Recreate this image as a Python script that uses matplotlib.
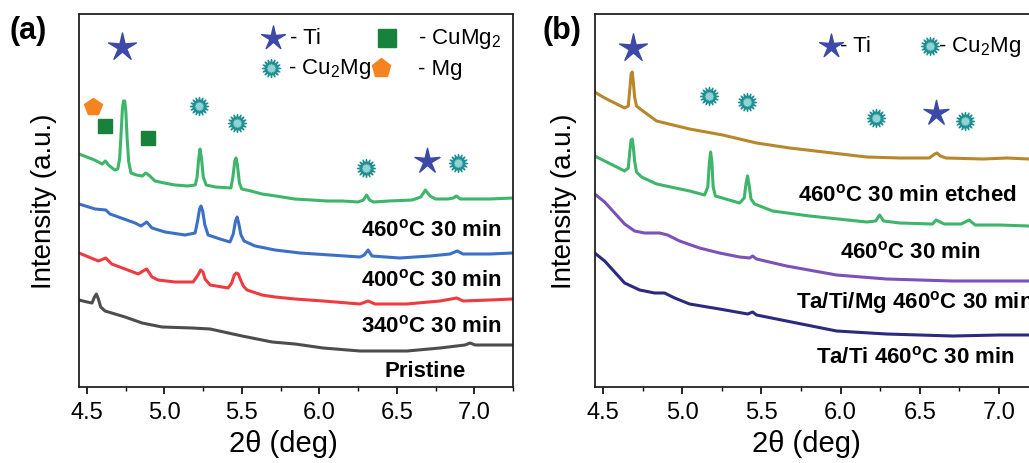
import matplotlib
matplotlib.use("Agg")
import matplotlib.pyplot as plt
from matplotlib.path import Path
from matplotlib.ticker import MultipleLocator

plt.rcParams['font.family'] = ['Liberation Sans', 'DejaVu Sans']
plt.rcParams['mathtext.fontset'] = 'custom'
plt.rcParams['mathtext.rm'] = 'Liberation Sans'
plt.rcParams['mathtext.bf'] = 'Liberation Sans:bold'
plt.rcParams['mathtext.it'] = 'Liberation Sans:italic'

# ---------------- panel (a) data : 2theta (deg), intensity (a.u.) ----------------
a_460_x = [4.45, 4.50, 4.55, 4.60, 4.62, 4.64, 4.68, 4.70, 4.712, 4.722, 4.730, 4.737, 4.745,
           4.752, 4.760, 4.770, 4.785, 4.82, 4.86, 4.88, 4.90, 4.94, 5.00, 5.07, 5.15, 5.20,
           5.212, 5.222, 5.231, 5.240, 5.252, 5.27, 5.33, 5.43, 5.443, 5.455, 5.463, 5.472,
           5.485, 5.50, 5.56, 5.63, 5.72, 5.84, 5.95, 6.05, 6.15, 6.25, 6.285, 6.305, 6.325,
           6.35, 6.45, 6.60, 6.655, 6.685, 6.715, 6.75, 6.83, 6.865, 6.885, 6.91, 7.0, 7.1, 7.25]
a_460_y = [233, 230, 227, 223, 226, 222, 217, 218, 228, 255, 278, 286, 286,
           276, 250, 226, 214, 212, 211, 214, 212, 206, 204, 202, 201, 202,
           210, 228, 238, 229, 210, 202, 200, 199, 210, 226, 229, 222,
           204, 198, 196, 193, 191, 188, 187, 186, 186, 185, 187, 192, 187,
           185, 186, 187, 190, 197, 191, 188, 188, 189, 191, 188, 188, 188, 189]

a_400_x = [4.45, 4.554, 4.623, 4.65, 4.812, 4.85, 4.887, 4.921, 5.005, 5.134, 5.199, 5.215, 5.228,
           5.237, 5.248, 5.262, 5.283, 5.36, 5.424, 5.445, 5.46, 5.47, 5.48, 5.495, 5.515, 5.586,
           5.715, 5.876, 6.07, 6.263, 6.29, 6.315, 6.34, 6.52, 6.715, 6.844, 6.89, 6.928, 7.1, 7.25]
a_400_y = [183, 178, 177, 173, 164, 161, 165, 159, 155, 152, 154, 166, 178,
           181, 176, 162, 152, 148, 145, 153, 166, 170, 164, 152, 146, 141,
           137, 134, 132, 130, 132, 137, 131, 129, 131, 133, 136, 133, 133, 134]

a_340_x = [4.45, 4.575, 4.623, 4.661, 4.747, 4.833, 4.863, 4.887, 4.921, 4.96, 5.07, 5.186, 5.218,
           5.235, 5.25, 5.263, 5.296, 5.412, 5.435, 5.452, 5.465, 5.478, 5.49, 5.51, 5.534, 5.631,
           5.715, 5.844, 6.025, 6.263, 6.315, 6.36, 6.563, 6.779, 6.887, 6.928, 7.1, 7.25]
a_340_y = [134, 126, 129, 123, 118, 113, 116, 118, 110, 107, 105, 105, 112,
           117, 115, 108, 102, 99, 104, 112, 114, 113, 108, 101, 97, 92,
           90, 88, 86, 83, 86, 83, 83, 86, 89, 86, 87, 88]

a_pri_x = [4.45, 4.502, 4.534, 4.55, 4.562, 4.575, 4.59, 4.618, 4.747, 4.857, 4.986, 5.18, 5.296,
           5.502, 5.696, 5.844, 6.025, 6.263, 6.566, 6.779, 6.94, 6.973, 7.005, 7.25]
a_pri_y = [87, 85, 84, 90, 93, 88, 80, 76, 70, 64, 60, 59, 58,
           51, 45, 43, 39, 36, 36, 39, 42, 44, 42, 42]

# phase markers, panel (a)
a_ti_x, a_ti_y = [4.728, 6.694], [340, 226]
a_cu2mg_x, a_cu2mg_y = [5.227, 5.472, 6.302, 6.894], [281, 264, 219, 224]
a_cumg2_x, a_cumg2_y = [4.618, 4.894], [261, 249]
a_mg_x, a_mg_y = [4.539], [280]

# ---------------- panel (b) data ----------------
b_etch_x = [4.448, 4.511, 4.574, 4.637, 4.66, 4.67, 4.678, 4.685, 4.692, 4.70, 4.712, 4.744,
            4.839, 5.047, 5.256, 5.47, 5.679, 5.95, 6.165, 6.376, 6.56, 6.595, 6.61, 6.63,
            6.666, 6.9, 7.05, 7.188, 7.26]
b_etch_y = [295, 289, 284, 279, 281, 298, 313, 315, 305, 290, 281, 277,
            266, 258, 252, 244, 239, 234, 230, 229, 229, 233, 234, 231,
            229, 228, 229, 228, 228]

b_460_x = [4.448, 4.511, 4.574, 4.637, 4.66, 4.67, 4.678, 4.685, 4.692, 4.70, 4.712, 4.744,
           4.839, 5.047, 5.142, 5.162, 5.172, 5.180, 5.188, 5.196, 5.21, 5.363, 5.392, 5.404,
           5.413, 5.422, 5.435, 5.458, 5.571, 5.805, 6.165, 6.222, 6.247, 6.272, 6.373, 6.581,
           6.604, 6.655, 6.762, 6.812, 6.85, 7.004, 7.188, 7.26]
b_460_y = [231, 226, 221, 216, 219, 236, 247, 248, 240, 226, 215, 210,
           203, 196, 192, 200, 224, 235, 225, 200, 191, 184, 189, 204,
           211, 203, 188, 183, 176, 171, 165, 166, 172, 166, 164, 163,
           167, 163, 163, 167, 162, 162, 161, 161]

b_mg_x = [4.448, 4.511, 4.574, 4.637, 4.70, 4.763, 4.858, 4.908, 4.984, 5.11, 5.236, 5.363,
          5.426, 5.445, 5.47, 5.659, 5.975, 6.29, 6.707, 7.004, 7.26]
b_mg_y = [193, 185, 174, 163, 156, 154, 154, 152, 146, 139, 134, 130,
          129, 131, 128, 121, 112, 108, 106, 106, 106]

b_ti_x = [4.448, 4.511, 4.574, 4.637, 4.732, 4.826, 4.889, 4.953, 5.047, 5.236, 5.414, 5.445,
          5.47, 5.659, 5.975, 6.29, 6.707, 7.004, 7.26]
b_ti_y = [134, 126, 115, 104, 97, 94, 94, 89, 83, 78, 73, 75,
          72, 66, 56, 53, 51, 52, 52]

# phase markers, panel (b)
b_ti_mark_x, b_ti_mark_y = [4.689, 6.605], [339, 274]
b_cu2mg_x, b_cu2mg_y = [5.169, 5.412, 6.222, 6.783], [291, 285, 269, 266]

# ---------------- styles ----------------
burst = Path.unit_regular_star(16, 0.5)
star = Path.unit_regular_star(5, 0.3)
TI_C = '#3c49a8'
CU2MG_FACE, CU2MG_EDGE = '#8fd3d3', '#1f8e92'
CUMG2_C = '#18813c'
MG_C = '#f58420'
lab = dict(fontsize=16, fontweight='bold', va='center')
leg = dict(fontsize=16, va='center')

fig = plt.figure(figsize=(10.29, 4.64), dpi=100)
ax1 = fig.add_axes([79 / 1029, 76 / 464, 434 / 1029, 373 / 464])
ax2 = fig.add_axes([595 / 1029, 76 / 464, 443.5 / 1029, 373 / 464])


def style(ax, xlab_x, ylab_x):
    ax.set_xlim(4.45, 7.25)
    ax.set_ylim(0, 373)
    ax.set_yticks([])
    ax.xaxis.set_major_locator(MultipleLocator(0.5))
    ax.xaxis.set_minor_locator(MultipleLocator(0.25))
    ax.xaxis.set_major_formatter(lambda v, p: f"{v:.1f}")
    ax.tick_params(axis='x', which='major', length=5, width=1.2, labelsize=17, pad=5)
    ax.tick_params(axis='x', which='minor', length=3, width=1.0)
    for s in ax.spines.values():
        s.set_linewidth(1.3)
        s.set_color('#222222')
    ax.set_xlabel('2θ (deg)', fontsize=21)
    ax.xaxis.set_label_coords(xlab_x, -0.150)
    ax.xaxis.label.set_va('center')
    ax.set_ylabel('Intensity (a.u.)', fontsize=20)
    ax.yaxis.set_label_coords(ylab_x, 0.5)
    ax.yaxis.label.set_va('center')


# ---- panel (a)
ax1.plot(a_pri_x, a_pri_y, color='#4d4d4d', lw=2.2)
ax1.plot(a_340_x, a_340_y, color='#ee3b40', lw=2.2)
ax1.plot(a_400_x, a_400_y, color='#3b70c6', lw=2.2)
ax1.plot(a_460_x, a_460_y, color='#3db56a', lw=2.2)

ax1.plot(a_ti_x[:1], a_ti_y[:1], ls='none', marker=star, ms=21, color=TI_C)
ax1.plot(a_ti_x[1:], a_ti_y[1:], ls='none', marker=star, ms=19, color=TI_C)
ax1.plot(a_cu2mg_x, a_cu2mg_y, ls='none', marker=burst, ms=13, mfc=CU2MG_FACE, mec=CU2MG_EDGE, mew=1)
ax1.plot(a_cumg2_x, a_cumg2_y, ls='none', marker='s', ms=10, color=CUMG2_C)
ax1.plot(a_mg_x, a_mg_y, ls='none', marker='p', ms=13, color=MG_C)

# legend (a)
ax1.plot([5.704], [349], marker=star, ms=18, color=TI_C)
ax1.text(5.812, 349, '- Ti', **leg)
ax1.plot([6.439], [349], marker='s', ms=13, color=CUMG2_C)
ax1.text(6.637, 349, r'- CuMg$_2$', **leg)
ax1.plot([5.687], [319], marker=burst, ms=13, mfc=CU2MG_FACE, mec=CU2MG_EDGE, mew=1)
ax1.text(5.799, 319, r'- Cu$_2$Mg', **leg)
ax1.plot([6.399], [319], marker='p', ms=14, color=MG_C)
ax1.text(6.637, 319, '- Mg', **leg)

ax1.text(7.179, 158, r'460$^{\mathbf{o}}$C 30 min', ha='right', **lab)
ax1.text(7.179, 108, r'400$^{\mathbf{o}}$C 30 min', ha='right', **lab)
ax1.text(7.179, 62, r'340$^{\mathbf{o}}$C 30 min', ha='right', **lab)
ax1.text(6.683, 16, 'Pristine', ha='center', **lab)
style(ax1, 0.47, -0.081)
fig.text(28 / 1029, 1 - 31 / 464, '(a)', fontsize=22, fontweight='bold', ha='center', va='center')

# ---- panel (b)
ax2.plot(b_ti_x, b_ti_y, color='#2b2a80', lw=2.2)
ax2.plot(b_mg_x, b_mg_y, color='#7a52b8', lw=2.2)
ax2.plot(b_460_x, b_460_y, color='#3db56a', lw=2.2)
ax2.plot(b_etch_x, b_etch_y, color='#b8872c', lw=2.2)

ax2.plot(b_ti_mark_x[:1], b_ti_mark_y[:1], ls='none', marker=star, ms=21, color=TI_C)
ax2.plot(b_ti_mark_x[1:], b_ti_mark_y[1:], ls='none', marker=star, ms=19, color=TI_C)
ax2.plot(b_cu2mg_x, b_cu2mg_y, ls='none', marker=burst, ms=13, mfc=CU2MG_FACE, mec=CU2MG_EDGE, mew=1)

ax2.plot([5.942], [341], marker=star, ms=18, color=TI_C)
ax2.text(5.995, 341, '- Ti', **leg)
ax2.plot([6.567], [341], marker=burst, ms=13, mfc=CU2MG_FACE, mec=CU2MG_EDGE, mew=1)
ax2.text(6.613, 341, r'- Cu$_2$Mg', **leg)

ax2.text(5.729, 193, r'460$^{\mathbf{o}}$C 30 min etched', ha='left', **lab)
ax2.text(5.994, 136, r'460$^{\mathbf{o}}$C 30 min', ha='left', **lab)
ax2.text(5.721, 86, r'Ta/Ti/Mg 460$^{\mathbf{o}}$C 30 min', ha='left', **lab)
ax2.text(5.847, 31, r'Ta/Ti 460$^{\mathbf{o}}$C 30 min', ha='left', **lab)
style(ax2, 0.476, -0.07)
fig.text(562 / 1029, 1 - 31 / 464, '(b)', fontsize=22, fontweight='bold', ha='center', va='center')

fig.savefig('out.png', dpi=100)
